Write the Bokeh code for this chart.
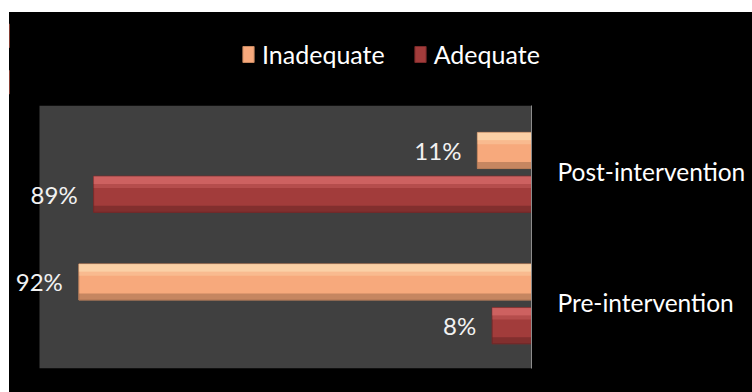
from bokeh.plotting import figure
from bokeh.layouts import column
from bokeh.models import ColumnDataSource, Range1d, FactorRange, CategoricalAxis, Legend, LegendItem, BoxAnnotation
from bokeh.transform import dodge
from bokeh.core.properties import value
from bokeh.embed import file_html
from bokeh.resources import INLINE

# ---- data ----
categories = ["Pre-intervention", "Post-intervention"]
inadequate = [92, 11]
adequate = [8, 89]
inadequate_labels = ["92%", "11%"]
adequate_labels = ["8%", "89%"]
series_names = ["Inadequate", "Adequate"]

FONT = "Lato"
IN_COLORS = ("#F7A97C", "#FFF0C8", "#8A5A40", "#C88860")
AD_COLORS = ("#A23C3B", "#F08080", "#5A1E1E", "#7A2A2A")

src_in = ColumnDataSource(dict(cat=categories, v=inadequate, lab=inadequate_labels, zero=[0] * len(categories)))
src_ad = ColumnDataSource(dict(cat=categories, v=adequate, lab=adequate_labels, zero=[0] * len(categories)))

# ---------- main chart ----------
# frame spans 522 px; 100% = 492 px -> x range extends past 100 to leave room for labels
p = figure(width=743, height=287, output_backend="svg", toolbar_location=None,
           x_range=Range1d(100 * 522 / 492, 0), y_range=FactorRange(*categories, range_padding=0),
           x_axis_location=None, y_axis_location=None)
p.frame_align = False
p.min_border_left = 0
p.min_border_right = 221
p.min_border_top = 0
p.min_border_bottom = 24
p.background_fill_color = "#000000"
p.border_fill_color = "#000000"
p.outline_line_color = None
p.xgrid.visible = False
p.ygrid.visible = False

p.add_layout(BoxAnnotation(left=100, right=0, fill_color="#404040", fill_alpha=1, line_color=None, level="underlay"))

off_in, off_ad, h = 0.158, -0.175, 0.275
rng = p.y_range

def bars(src, off, colors):
    main, light, dark, edge = colors
    r = p.hbar(y=dodge("cat", off, range=rng), left="v", right="zero", height=h, source=src,
               fill_color=main, line_color=edge, line_width=1)
    p.hbar(y=dodge("cat", off + h / 2 - 0.03, range=rng), left="v", right="zero", height=0.06,
           source=src, fill_color=light, fill_alpha=0.55, line_color=None)
    p.hbar(y=dodge("cat", off + h / 2 - 0.075, range=rng), left="v", right="zero", height=0.03,
           source=src, fill_color=light, fill_alpha=0.25, line_color=None)
    p.hbar(y=dodge("cat", off - h / 2 + 0.025, range=rng), left="v", right="zero", height=0.05,
           source=src, fill_color=dark, fill_alpha=0.45, line_color=None)
    p.text(x="v", y=dodge("cat", off, range=rng), text="lab", source=src, x_offset=-16,
           text_align="right", text_baseline="middle", text_color="#F2F2F2",
           text_font=value(FONT), text_font_size="24px")
    return r

bars(src_in, off_in, IN_COLORS)
bars(src_ad, off_ad, AD_COLORS)

yax = CategoricalAxis(axis_line_color="#8C8C8C", axis_line_width=1,
                      major_tick_line_color=None, minor_tick_line_color=None,
                      major_label_text_color="#FFFFFF", major_label_text_font=FONT,
                      major_label_text_font_size="24.5px", major_label_standoff=20)
p.add_layout(yax, "right")

# ---------- legend strip above the chart ----------
lg = figure(width=743, height=93, output_backend="svg", toolbar_location=None,
            x_range=Range1d(1000, 1001), y_range=FactorRange(*categories),
            x_axis_location=None, y_axis_location=None)
lg.frame_align = False
lg.min_border = 0
lg.background_fill_color = "#000000"
lg.border_fill_color = "#000000"
lg.outline_line_color = None
lg.xgrid.visible = False
lg.ygrid.visible = False
l_in = lg.hbar(y="cat", left="v", right="zero", height=0.5, source=src_in,
               fill_color=IN_COLORS[0], line_color=IN_COLORS[3])
l_ad = lg.hbar(y="cat", left="v", right="zero", height=0.5, source=src_ad,
               fill_color=AD_COLORS[0], line_color=AD_COLORS[3])
legend = Legend(items=[LegendItem(label=series_names[0], renderers=[l_in]),
                       LegendItem(label=series_names[1], renderers=[l_ad])],
                orientation="horizontal", location=(232, 36),
                background_fill_alpha=0, border_line_color=None, padding=0, margin=0,
                glyph_width=14, glyph_height=20, label_standoff=7, spacing=28,
                label_text_color="#FFFFFF", label_text_font=FONT, label_text_font_size="25px")
lg.add_layout(legend, "center")

layout = column(lg, p, spacing=0)
layout.margin = (12, 0, 0, 9)
layout.styles = {"background-color": "#000000"}

open("out.html", "w").write(file_html(layout, INLINE))
